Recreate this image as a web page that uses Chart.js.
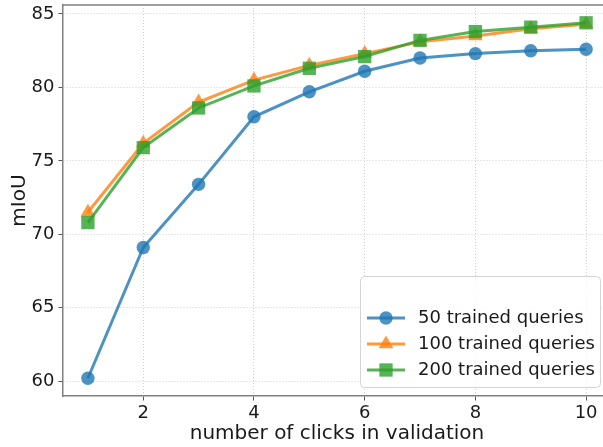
<!DOCTYPE html>
<html>
<head>
<meta charset="utf-8">
<script src="https://cdn.jsdelivr.net/npm/chart.js"></script>
<style>
  html, body { margin: 0; padding: 0; background: #fff; overflow: hidden; }
  #wrap { width: 615px; height: 447px; }
</style>
</head>
<body>
<div id="wrap"><canvas id="c" width="615" height="447"></canvas></div>
<script>
// Number of clicks used during validation
const clicks = [1, 2, 3, 4, 5, 6, 7, 8, 9, 10];
// mIoU for models trained with different numbers of queries
const q50  = [60.2, 69.1, 73.4, 78.0, 79.7, 81.1, 82.0, 82.3, 82.5, 82.6];
const q100 = [71.5, 76.2, 79.0, 80.5, 81.5, 82.3, 83.1, 83.5, 84.0, 84.3];
const q200 = [70.8, 75.9, 78.6, 80.1, 81.3, 82.1, 83.2, 83.8, 84.1, 84.4];
const seriesLabels = ['50 trained queries', '100 trained queries', '200 trained queries'];
const xTicks = [2, 4, 6, 8, 10];
const yTicks = [60, 65, 70, 75, 80, 85];

const FONT = "'DejaVu Sans', sans-serif";
const SPINE = '#808080';
const styles = [
  { color: 'rgba(31,119,180,0.8)', shape: 'circle', radius: 6.7 },
  { color: 'rgba(255,127,14,0.8)', shape: 'triangle', radius: 8.5 },
  { color: 'rgba(44,160,44,0.8)', shape: 'rect', radius: 9.4 }
];
const seriesData = [q50, q100, q200];

const datasets = seriesData.map((vals, i) => ({
  label: seriesLabels[i],
  data: clicks.map((c, j) => ({ x: c, y: vals[j] })),
  borderColor: styles[i].color,
  backgroundColor: styles[i].color,
  pointBackgroundColor: styles[i].color,
  pointBorderColor: styles[i].color,
  pointBorderWidth: 0,
  borderWidth: 3,
  pointStyle: styles[i].shape,
  pointRadius: styles[i].radius,
  pointHoverRadius: styles[i].radius,
  tension: 0,
  order: 2 - i
}));

function marker(ctx, shape, x, y, r, color) {
  ctx.fillStyle = color;
  ctx.beginPath();
  if (shape === 'circle') {
    ctx.arc(x, y, r, 0, Math.PI * 2);
  } else if (shape === 'rect') {
    const h = r * Math.SQRT1_2;
    ctx.rect(x - h, y - h, 2 * h, 2 * h);
  } else {
    const a = Math.PI * 2 / 3;
    for (let k = 0; k < 3; k++) {
      const px = x + Math.sin(k * a) * r, py = y - Math.cos(k * a) * r;
      k === 0 ? ctx.moveTo(px, py) : ctx.lineTo(px, py);
    }
    ctx.closePath();
  }
  ctx.fill();
}

// Axes keep a fixed footprint, without extra room reserved for edge labels
function fixBox(s, size) {
  if (s.isHorizontal()) s.height = size; else s.width = size;
  s.paddingTop = 0; s.paddingBottom = 0; s.paddingLeft = 0; s.paddingRight = 0;
}

// Frame on the remaining sides plus a boxed legend in the lower right
const framePlugin = {
  id: 'frameAndLegend',
  afterDraw(chart) {
    const { ctx, chartArea: a } = chart;
    ctx.save();
    ctx.strokeStyle = SPINE;
    ctx.lineWidth = 1.5;
    ctx.beginPath();
    ctx.moveTo(a.left, a.top); ctx.lineTo(a.right, a.top); ctx.lineTo(a.right, a.bottom);
    ctx.stroke();

    // legend box
    const bx = 360.5, by = 276.5, bw = 240, bh = 111, rr = 4;
    ctx.beginPath();
    ctx.moveTo(bx + rr, by);
    ctx.arcTo(bx + bw, by, bx + bw, by + bh, rr);
    ctx.arcTo(bx + bw, by + bh, bx, by + bh, rr);
    ctx.arcTo(bx, by + bh, bx, by, rr);
    ctx.arcTo(bx, by, bx + bw, by, rr);
    ctx.closePath();
    ctx.fillStyle = 'rgba(255,255,255,0.8)';
    ctx.fill();
    ctx.strokeStyle = '#d4d4d4';
    ctx.lineWidth = 1;
    ctx.stroke();

    const rows = [318, 344, 370];
    ctx.font = '18px ' + FONT;
    ctx.textBaseline = 'middle';
    ctx.textAlign = 'left';
    rows.forEach((yy, i) => {
      ctx.strokeStyle = styles[i].color;
      ctx.lineWidth = 3;
      ctx.beginPath(); ctx.moveTo(367, yy); ctx.lineTo(405, yy); ctx.stroke();
      marker(ctx, styles[i].shape, 386, yy, styles[i].radius, styles[i].color);
      ctx.fillStyle = '#1a1a1a';
      ctx.fillText(seriesLabels[i], 418, yy);
    });
    ctx.restore();
  }
};

new Chart(document.getElementById('c'), {
  type: 'line',
  data: { datasets },
  options: {
    responsive: false,
    animation: false,
    devicePixelRatio: 1,
    layout: { autoPadding: false, padding: { top: 5, right: 4, left: 0, bottom: 0 } },
    plugins: { legend: { display: false }, tooltip: { enabled: false } },
    scales: {
      x: {
        type: 'linear',
        min: 0.55, max: 10.45,
        afterBuildTicks: s => { s.ticks = xTicks.map(v => ({ value: v })); },
        afterFit: s => fixBox(s, 51),
        ticks: { font: { family: FONT, size: 18 }, color: '#1a1a1a', padding: 2, maxRotation: 0 },
        grid: { color: '#d0d0d0', lineWidth: 1, tickColor: '#555', tickLength: 4.5, tickWidth: 1 },
        border: { color: SPINE, width: 1.5, dash: [1, 2] },
        title: { display: true, text: 'number of clicks in validation', font: { family: FONT, size: 20 }, color: '#1a1a1a', padding: { top: 0, bottom: 1 } }
      },
      y: {
        type: 'linear',
        min: 58.99, max: 85.61,
        afterBuildTicks: s => { s.ticks = yTicks.map(v => ({ value: v })); },
        afterFit: s => fixBox(s, 63),
        ticks: { font: { family: FONT, size: 18 }, color: '#1a1a1a', padding: 4 },
        grid: { color: '#d0d0d0', lineWidth: 1, tickColor: '#555', tickLength: 4.5, tickWidth: 1 },
        border: { color: SPINE, width: 1.5, dash: [1, 2] },
        title: { display: true, text: 'mIoU', font: { family: FONT, size: 20 }, color: '#1a1a1a', padding: { top: 8, bottom: 0 } }
      }
    }
  },
  plugins: [framePlugin]
});
</script>
</body>
</html>
